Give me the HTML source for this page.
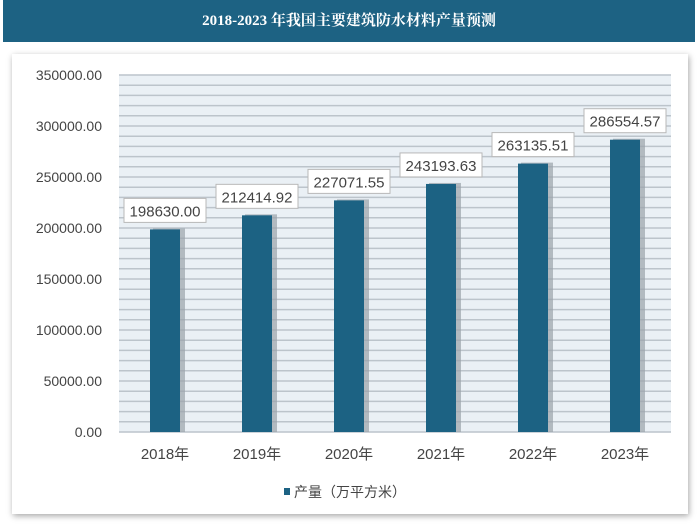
<!DOCTYPE html>
<html><head><meta charset="utf-8"><style>
body{margin:0;width:698px;height:531px;background:#fff;overflow:hidden;font-family:"Liberation Sans","Noto Sans CJK SC",sans-serif}
#title{position:absolute;left:3px;top:0;width:692px;height:42px;background:#1d6283;color:#fff;font-family:"Liberation Serif","Noto Serif CJK SC",serif;font-weight:bold;font-size:15px;line-height:42px;text-align:center}
#panel{position:absolute;left:12px;top:54px;width:676px;height:460px;background:#fff;box-shadow:1px 2px 6px rgba(0,0,0,.35)}
svg{position:absolute;left:0;top:0}
</style></head><body>
<div id="title">2018-2023 年我国主要建筑防水材料产量预测</div>
<div id="panel"></div>
<svg id="chart" width="698" height="531"></svg>
<script>
const categories=["2018年","2019年","2020年","2021年","2022年","2023年"];
const values=[198630.00,212414.92,227071.55,243193.63,263135.51,286554.57];
const ticks=[0,50000,100000,150000,200000,250000,300000,350000];
const NS="http://www.w3.org/2000/svg";
const svg=document.getElementById('chart');
const L=119,R=671,T=75,B=432,yMax=350000;
const y=v=>B-(v/yMax)*(B-T);
const bw=(R-L)/categories.length;
const x=i=>L+bw*(i+0.5);
function mk(t,a,p){const e=document.createElementNS(NS,t);for(const k in a)e.setAttribute(k,a[k]);(p||svg).appendChild(e);return e;}
const bg=mk('rect',{x:L,y:T,width:R-L,height:B-T,fill:'#eaf0f5'});


for(let v=0;v<=yMax;v+=10000){
 const g=mk('line',{x1:L,x2:R,y1:y(v),y2:y(v),stroke:'#bcc4cb','stroke-width':1.5});
 
 
}
ticks.forEach(t=>{
 const e=mk('text',{x:102,y:y(t)+5,'text-anchor':'end','font-size':14,fill:'#444'});
 e.textContent=t.toFixed(2);
 
 
});
categories.forEach((c,i)=>{
 const cx=x(i),w=30,v=values[i];
 const sh=mk('rect',{x:cx-w/2+3,y:y(v)-1,width:w+2,height:B-y(v)+1,fill:'#9aa3aa',opacity:.7});
 
 
 const b=mk('rect',{x:cx-w/2,y:y(v),width:w,height:B-y(v),fill:'#1c6283'});
 
 
 const lbl=v.toFixed(2);
 const bx=mk('rect',{x:cx-41,y:y(v)-31,width:82,height:24,fill:'#fff',stroke:'#b8b8b8'});
 
 
 const tv=mk('text',{x:cx,y:y(v)-13,'text-anchor':'middle','font-size':15,fill:'#444'});
 tv.textContent=lbl;
 
 
 const tx=mk('text',{x:cx,y:459,'text-anchor':'middle','font-size':15,fill:'#444'});
 tx.textContent=c;
 
 
});
const lg=mk('rect',{x:262,y:478,width:125,height:30,fill:'#fff'});


const lm=mk('rect',{x:284,y:488,width:6,height:7,fill:'#1c6283'});


const lt=mk('text',{x:294,y:497,'font-size':14,fill:'#444'});
lt.textContent='产量（万平方米）';


</script>
</body></html>
